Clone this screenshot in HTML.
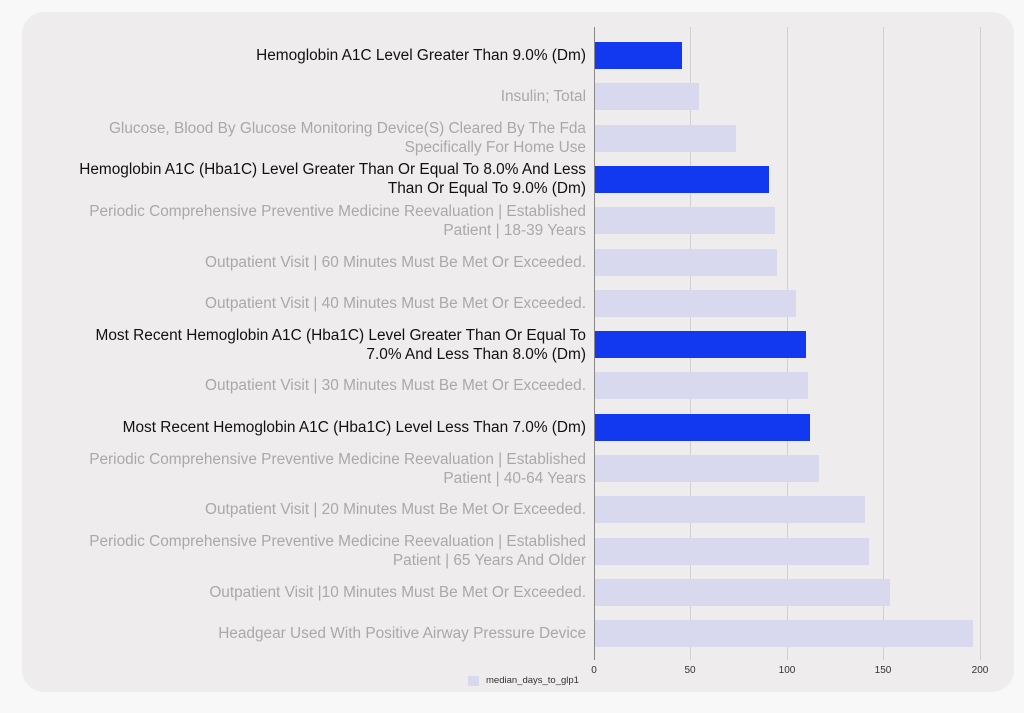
<!DOCTYPE html>
<html><head><style>
body{margin:0;width:1024px;height:713px;background:#f8f8f8;font-family:"Liberation Sans",sans-serif;position:relative;overflow:hidden}
.panel{position:absolute;left:22px;top:12px;width:992px;height:680px;background:#eeeced;border-radius:22px}
.g{position:absolute;top:27px;height:633px;width:1px;background:#d2d0d2}
.bar{position:absolute;left:595px;height:27px}
.lb{position:absolute;right:438px;width:560px;text-align:right;font-size:15.4px;line-height:19px;color:#a9a9a9}
.lb.d{color:#111}
.t{position:absolute;top:665px;font-size:10px;color:#333;transform:translateX(-50%)}
</style></head><body>
<div class="panel"></div>
<div class="g" style="left:690px"></div><div class="g" style="left:787px"></div><div class="g" style="left:883px"></div><div class="g" style="left:980px"></div>
<div id="c"></div>
<div class="g" style="left:593.5px;background:#888;width:1.5px;z-index:2"></div>
<div class="t" style="left:594px">0</div><div class="t" style="left:690px">50</div><div class="t" style="left:787px">100</div><div class="t" style="left:883px">150</div><div class="t" style="left:980px">200</div>
<div style="position:absolute;left:468px;top:676px;width:11px;height:10px;background:#d8d9ee"></div>
<div style="position:absolute;left:486px;top:675px;font-size:9.5px;color:#333">median_days_to_glp1</div>
<script>
var d=[["Hemoglobin A1C Level Greater Than 9.0% (Dm)",682,1],["Insulin; Total",699,0],["Glucose, Blood By Glucose Monitoring Device(S) Cleared By The Fda<br>Specifically For Home Use",736,0],["Hemoglobin A1C (Hba1C) Level Greater Than Or Equal To 8.0% And Less<br>Than Or Equal To 9.0% (Dm)",769,1],["Periodic Comprehensive Preventive Medicine Reevaluation | Established<br>Patient | 18-39 Years",775,0],["Outpatient Visit | 60 Minutes Must Be Met Or Exceeded.",777,0],["Outpatient Visit | 40 Minutes Must Be Met Or Exceeded.",796,0],["Most Recent Hemoglobin A1C (Hba1C) Level Greater Than Or Equal To<br>7.0% And Less Than 8.0% (Dm)",806,1],["Outpatient Visit | 30 Minutes Must Be Met Or Exceeded.",808,0],["Most Recent Hemoglobin A1C (Hba1C) Level Less Than 7.0% (Dm)",810,1],["Periodic Comprehensive Preventive Medicine Reevaluation | Established<br>Patient | 40-64 Years",819,0],["Outpatient Visit | 20 Minutes Must Be Met Or Exceeded.",865,0],["Periodic Comprehensive Preventive Medicine Reevaluation | Established<br>Patient | 65 Years And Older",869,0],["Outpatient Visit |10 Minutes Must Be Met Or Exceeded.",890,0],["Headgear Used With Positive Airway Pressure Device",973,0]];
var h="";d.forEach(function(r,i){var cy=55.5+i*41.3;var two=r[0].indexOf("<br>")>0;
h+='<div class="bar" style="top:'+(cy-13.5)+'px;width:'+(r[1]-595)+'px;background:'+(r[2]?'#1238f0':'#d8d9ee')+'"></div>';
h+='<div class="lb'+(r[2]?' d':'')+'" style="top:'+(cy-(two?19:9.5))+'px">'+r[0]+'</div>';});
document.getElementById("c").innerHTML=h;
</script>
</body></html>
